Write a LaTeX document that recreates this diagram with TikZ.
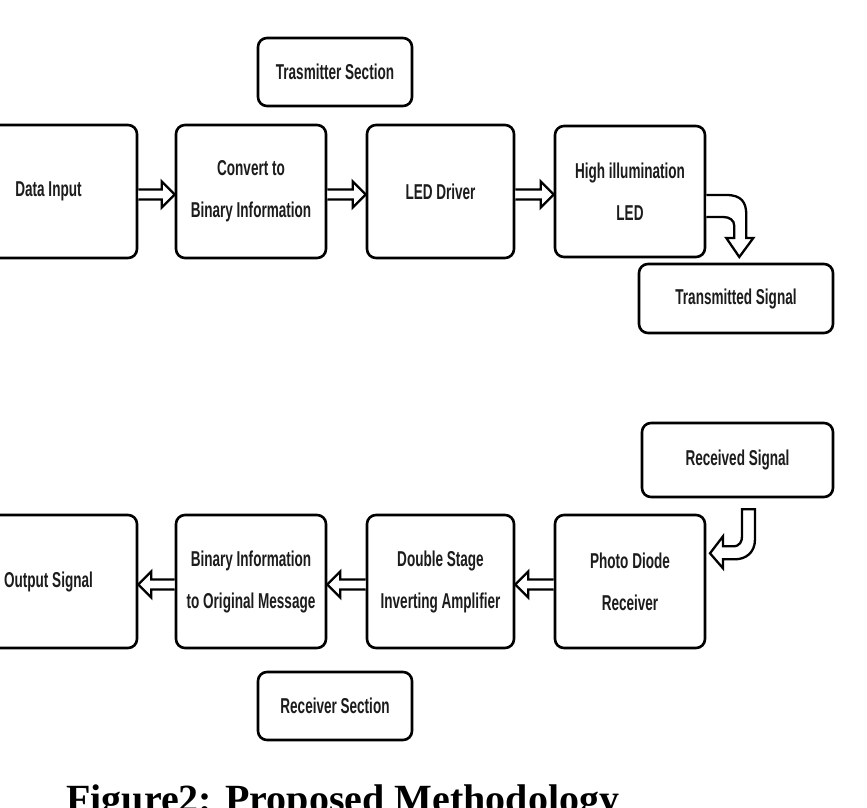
\documentclass[tikz,border=0pt]{standalone}
\usepackage{fontspec}
\usetikzlibrary{calc}
\newfontfamily\boxfont[FakeStretch=0.63]{Liberation Sans Bold}
\newfontfamily\capfont{Liberation Serif}
\definecolor{txt}{HTML}{1C1C1C}
\tikzset{
  blk/.style={draw=black, line width=2.6pt, rounded corners=9pt, fill=white,
    inner sep=0pt, align=center, text=txt,
    font=\boxfont\fontsize{21.5}{42}\selectfont},
  harr/.style={draw=black, line width=2.3pt, line join=miter, fill=white},
}
\newcommand{\rarr}[2]{\draw[harr] let \p1=(#1.east), \p2=(#2.west) in
  (\x1,\y1+2pt) -- (\x2-13pt,\y1+2pt) -- (\x2-13pt,\y1+10pt) -- (\x2,\y1-3pt)
  -- (\x2-13pt,\y1-16pt) -- (\x2-13pt,\y1-8pt) -- (\x1,\y1-8pt);}
\newcommand{\larr}[2]{\draw[harr] let \p1=(#1.west), \p2=(#2.east) in
  (\x1,\y1+2pt) -- (\x2+13pt,\y1+2pt) -- (\x2+13pt,\y1+10pt) -- (\x2,\y1-3pt)
  -- (\x2+13pt,\y1-16pt) -- (\x2+13pt,\y1-8pt) -- (\x1,\y1-8pt);}
\begin{document}
\begin{tikzpicture}[x=1pt,y=-1pt]
\useasboundingbox (0,0) rectangle (867,808);
% Transmitter
\node[blk, minimum width=154pt, minimum height=68pt] (tsec) at (335,72) {Trasmitter Section};
\node[blk, minimum width=177pt, minimum height=133pt] (din) at (48.5,191.5) {Data Input};
\node[blk, minimum width=150pt, minimum height=133pt] (conv) at (251,191.5) {Convert to\\Binary Information};
\node[blk, minimum width=147pt, minimum height=133pt] (drv) at (440.5,191.5) {LED Driver};
\node[blk, minimum width=150pt, minimum height=131pt] (led) at (630,191.5) {High illumination\\LED};
\node[blk, minimum width=194pt, minimum height=69pt] (tsig) at (736,298.5) {Transmitted Signal};
% Receiver
\node[blk, minimum width=191pt, minimum height=74pt] (rsig) at (737.5,460) {Received Signal};
\node[blk, minimum width=150pt, minimum height=133pt] (pd) at (630,581.5) {Photo Diode\\Receiver};
\node[blk, minimum width=147pt, minimum height=133pt] (amp) at (440.5,581.5) {Double Stage\\Inverting Amplifier};
\node[blk, minimum width=150pt, minimum height=133pt] (b2m) at (251,581.5) {Binary Information\\to Original Message};
\node[blk, minimum width=177pt, minimum height=133pt] (out) at (48.5,581.5) {Output Signal};
\node[blk, minimum width=154pt, minimum height=68pt] (rsec) at (335,706) {Receiver Section};
% straight hollow arrows
\rarr{din}{conv}
\rarr{conv}{drv}
\rarr{drv}{led}
\larr{pd}{amp}
\larr{amp}{b2m}
\larr{b2m}{out}
% curved hollow arrow: LED -> transmitted signal
\begin{scope}[shift={(led.east)}]
\draw[harr] (0,3.5) -- (20,3.5) .. controls (35,3.5) and (40,10.5) .. (40,23.5)
  -- (40,46.5) -- (47,46.5) -- (33,65.5) -- (20,46.5) -- (28,46.5) -- (28,34.5)
  .. controls (28,28.5) and (23,25.5) .. (17,25.5) -- (0,25.5);
\end{scope}
% curved hollow arrow: received signal -> photo diode
\begin{scope}[shift={(rsig.south)}]
\draw[harr] (4.5,11) -- (17.5,11) -- (17.5,41) .. controls (17.5,55) and (7.5,61) .. (-2.5,61)
  -- (-14.5,61) -- (-14.5,70) -- (-27.5,55) -- (-14.5,38) -- (-14.5,48) -- (-4.5,48)
  .. controls (2.5,48) and (4.5,43) .. (4.5,38) -- cycle;
\end{scope}
% caption (cut by the page edge, as in the reference)
\node[anchor=base west, inner sep=0pt, font=\capfont\bfseries\fontsize{40}{48}\selectfont] (cap) at (66,812) {Figure2: Proposed Methodology};
\end{tikzpicture}
\end{document}
